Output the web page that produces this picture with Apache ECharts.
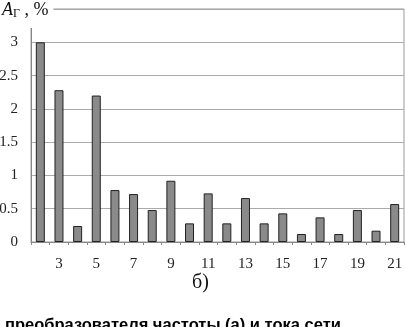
<!DOCTYPE html>
<html>
<head>
<meta charset="utf-8">
<script src="https://cdn.jsdelivr.net/npm/echarts@6/dist/echarts.min.js"></script>
<style>
  html, body { margin: 0; padding: 0; background: #fff; }
  #chart { width: 405px; height: 327px; }
</style>
</head>
<body>
<div id="chart"></div>
<script>
  // номера гармоник
  var harmonics = ['2', '3', '4', '5', '6', '7', '8', '9', '10', '11', '12', '13', '14', '15', '16', '17', '18', '19', '20', '21']
  // A_Г, %
  var values = [3.0, 2.28, 0.24, 2.2, 0.78, 0.72, 0.48, 0.92, 0.28, 0.73, 0.28, 0.66, 0.28, 0.43, 0.12, 0.37, 0.12, 0.48, 0.17, 0.57]
  var yTicks = ['0', '0.5', '1', '1.5', '2', '2.5', '3']

  var serif = '"Liberation Serif", "DejaVu Serif", serif'
  var myChart = echarts.init(document.getElementById('chart'))
  var option = {
    animation: false,
    title: {
      text: '{a|A}{g|Г}{p| , %}',
      left: 0,
      top: 0,
      padding: [0, 5, 8, 2],
      backgroundColor: '#fff',
      textStyle: {
        fontWeight: 'normal',
        rich: {
          a: { fontFamily: serif, fontStyle: 'italic', fontWeight: 'normal', fontSize: 18, color: '#111' },
          g: { fontFamily: serif, fontWeight: 'normal', fontSize: 12, color: '#111', verticalAlign: 'bottom', padding: [8, 0, 0, 0] },
          p: { fontFamily: serif, fontWeight: 'normal', fontSize: 18, color: '#111' }
        }
      }
    },
    grid: {
      left: 31,
      right: 1,
      top: 9,
      bottom: 85,
      outerBoundsMode: 'none',
      show: true,
      borderColor: '#999',
      borderWidth: 1,
      z: 0
    },
    xAxis: {
      type: 'category',
      data: harmonics,
      axisLine: { lineStyle: { color: '#888' } },
      axisTick: { show: true, length: 3, lineStyle: { color: '#888' } },
      axisLabel: {
        interval: 0,
        margin: 15,
        fontFamily: serif,
        fontSize: 15,
        color: '#222',
        formatter: function (v, i) { return i % 2 === 1 ? v : '' }
      }
    },
    yAxis: {
      type: 'value',
      min: 0,
      max: 3.5,
      interval: 0.5,
      axisLine: { show: true, lineStyle: { color: '#888' } },
      axisTick: { show: false },
      axisLabel: {
        margin: 13,
        fontFamily: serif,
        fontSize: 15,
        color: '#222',
        formatter: function (v) {
          var s = String(+v.toFixed(1))
          return yTicks.indexOf(s) >= 0 ? s : ''
        }
      },
      splitLine: { lineStyle: { color: '#aaa' } }
    },
    series: [{
      type: 'bar',
      data: values,
      barWidth: 9,
      itemStyle: { color: '#8a8a8a', borderColor: '#222', borderWidth: 1 }
    }],
    graphic: [
      {
        type: 'text',
        left: 192,
        top: 273,
        style: { text: 'б)', font: '20px ' + serif, fill: '#111' }
      },
      {
        type: 'text',
        left: 5,
        top: 317,
        style: { text: 'преобразователя частоты (а) и тока сети', font: 'bold 16.5px "Liberation Sans", Arial, sans-serif', fill: '#000' }
      }
    ]
  }
  myChart.setOption(option)
</script>
</body>
</html>
